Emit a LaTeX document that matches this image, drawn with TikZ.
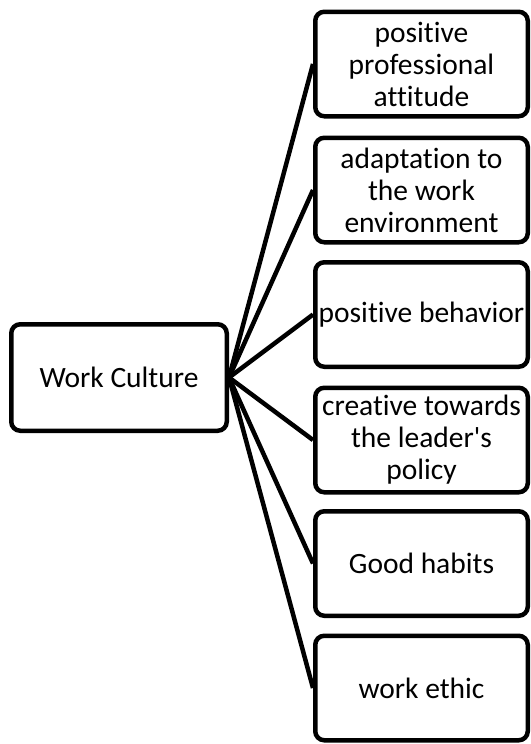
\documentclass[tikz,border=0pt]{standalone}
\usepackage{fontspec}
\setmainfont[Ligatures={NoCommon}]{Carlito}
\begin{document}
\begin{tikzpicture}[x=1pt, y=-1pt,
    box/.style={draw, line width=4.5pt, rounded corners=9pt, align=center, inner sep=0pt,
        font=\fontsize{29.5}{32}\selectfont},
    leaf/.style={box, minimum width=212.5pt, minimum height=104.5pt}]
    \useasboundingbox (0,0) rectangle (530,744);
    \node[box, minimum width=215.5pt, minimum height=106.5pt] (culture) at (119,377.5) {Work Culture};
    \node[leaf] (attitude) at (421.5,64) {positive\\professional\\attitude};
    \node[leaf] (adaptation) at (421.5,190) {adaptation to\\the work\\environment};
    \node[leaf] (behavior) at (421.5,314.5) {positive behavior};
    \node[leaf] (creative) at (421.5,440) {creative towards\\the leader\textquotesingle s\\policy};
    \node[leaf] (habits) at (421.5,563.5) {Good habits};
    \node[leaf] (ethic) at (421.5,688) {work ethic};
    %connectors
    \foreach \n in {attitude,adaptation,behavior,creative,habits,ethic}
        \draw[line width=4.5pt] (culture.east) -- (\n.west);
\end{tikzpicture}
\end{document}
